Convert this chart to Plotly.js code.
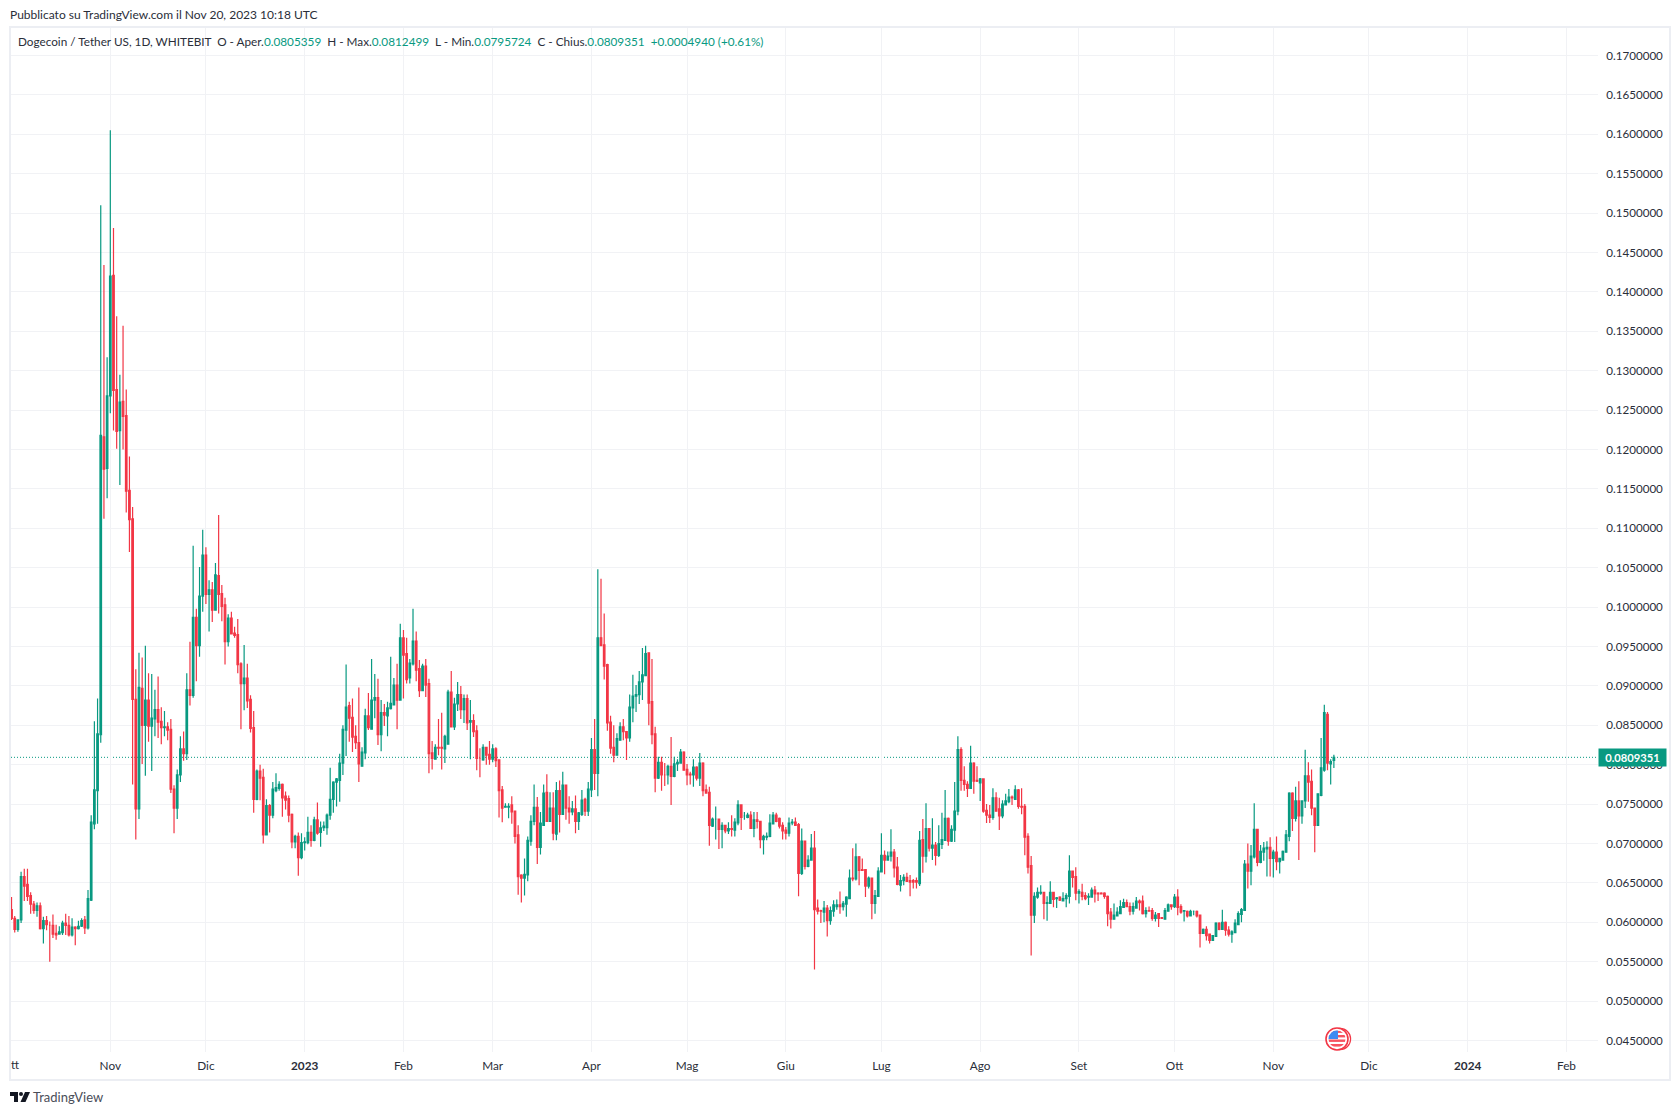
<!DOCTYPE html>
<html>
<head>
<meta charset="utf-8">
<script src="https://cdn.plot.ly/plotly-3.0.1.min.js"></script>
<style>html,body{margin:0;padding:0;background:#fff}#chart{width:1680px;height:1115px}</style>
</head>
<body>
<div id="chart"></div>
<script>
const firstDate = '2022-10-01';
const openPrices = [
.0616,.0605,.0591,.0603,.0658,.0648,.0634,.0623,.0615,.0621,
.0592,.0602,.0596,.0596,.0586,.0585,.0587,.0599,.0596,.0584,
.0594,.0592,.0595,.0603,.0593,.0628,.0725,.0767,.0838,.1216,
.1176,.1268,.1421,.1276,.1224,.1261,.1243,.1148,.1112,.0883,
.0744,.0897,.0850,.0882,.0849,.0858,.0870,.0855,.0847,.0848,
.0845,.0769,.0745,.0787,.0820,.0814,.0895,.0888,.0987,.0951,
.1014,.1066,.1016,.1022,.0996,.1040,.1017,.1003,.0956,.0986,
.0967,.0965,.0928,.0903,.0910,.0883,.0847,.0756,.0792,.0784,
.0711,.0748,.0736,.0767,.0770,.0775,.0760,.0757,.0737,.0702,
.0709,.0682,.0701,.0701,.0714,.0704,.0730,.0714,.0720,.0720,
.0736,.0756,.0778,.0780,.0802,.0844,.0875,.0860,.0836,.0828,
.0798,.0815,.0862,.0845,.0882,.0885,.0838,.0866,.0862,.0871,
.0876,.0901,.0882,.0961,.0941,.0910,.0928,.0957,.0922,.0894,
.0925,.0903,.0815,.0807,.0822,.0822,.0820,.0826,.0892,.0848,
.0877,.0889,.0870,.0884,.0854,.0856,.0843,.0808,.0806,.0822,
.0813,.0807,.0820,.0806,.0768,.0746,.0746,.0749,.0741,.0711,
.0660,.0656,.0660,.0703,.0728,.0746,.0695,.0723,.0765,.0728,
.0745,.0712,.0767,.0737,.0774,.0745,.0740,.0744,.0728,.0737,
.0756,.0741,.0768,.0819,.0789,.0961,.0952,.0927,.0854,.0822,
.0812,.0831,.0848,.0842,.0834,.0872,.0887,.0889,.0905,.0913,
.0942,.0880,.0839,.0783,.0803,.0787,.0787,.0798,.0785,.0801,
.0802,.0816,.0794,.0788,.0787,.0797,.0783,.0802,.0768,.0765,
.0722,.0731,.0731,.0718,.0723,.0716,.0719,.0717,.0726,.0749,
.0735,.0733,.0736,.0719,.0730,.0728,.0705,.0708,.0709,.0725,
.0736,.0732,.0723,.0717,.0713,.0726,.0727,.0724,.0662,.0703,
.0671,.0679,.0694,.0618,.0615,.0613,.0618,.0602,.0614,.0620,
.0622,.0620,.0623,.0630,.0656,.0655,.0683,.0667,.0667,.0646,
.0656,.0624,.0633,.0664,.0685,.0679,.0684,.0689,.0670,.0647,
.0653,.0657,.0653,.0653,.0653,.0649,.0705,.0684,.0719,.0694,
.0698,.0685,.0699,.0704,.0732,.0703,.0717,.0741,.0819,.0780,
.0775,.0770,.0802,.0780,.0777,.0782,.0742,.0736,.0733,.0758,
.0744,.0735,.0749,.0753,.0759,.0756,.0768,.0747,.0747,.0709,
.0672,.0609,.0632,.0637,.0638,.0624,.0624,.0638,.0630,.0632,
.0627,.0630,.0633,.0665,.0658,.0637,.0638,.0634,.0632,.0632,
.0641,.0637,.0637,.0637,.0633,.0613,.0604,.0608,.0611,.0619,
.0625,.0620,.0614,.0618,.0627,.0627,.0611,.0615,.0615,.0605,
.0611,.0606,.0604,.0614,.0622,.0620,.0632,.0620,.0614,.0614,
.0608,.0614,.0614,.0609,.0586,.0591,.0585,.0577,.0582,.0599,
.0591,.0600,.0590,.0585,.0587,.0597,.0610,.0615,.0674,.0665,
.0683,.0718,.0676,.0689,.0693,.0695,.0681,.0689,.0677,.0679,
.0689,.0709,.0764,.0732,.0754,.0735,.0754,.0786,.0779,.0745,
.0723,.0761,.0793,.0864,.0801,.0805359];
const highPrices = [
.0632,.0608,.0604,.0664,.0668,.0668,.0638,.0627,.0625,.0625,
.0607,.0608,.0601,.0610,.0597,.0595,.0602,.0611,.0608,.0605,
.0595,.0602,.0605,.0608,.0641,.0736,.0855,.0884,.1510,.1434,
.1317,.1605,.1481,.1369,.1295,.1357,.1276,.1191,.1127,.0921,
.0942,.0936,.0951,.0916,.0915,.0895,.0912,.0873,.0868,.0854,
.0858,.0774,.0794,.0836,.0842,.0916,.0956,.1078,.0998,.1051,
.1098,.1076,.1034,.1032,.1056,.1117,.1028,.1012,.0991,.0994,
.0975,.0985,.0930,.0952,.0928,.0888,.0868,.0794,.0800,.0795,
.0756,.0750,.0778,.0789,.0779,.0776,.0766,.0761,.0738,.0711,
.0714,.0713,.0708,.0734,.0723,.0734,.0752,.0728,.0728,.0738,
.0796,.0779,.0783,.0814,.0850,.0927,.0880,.0884,.0850,.0898,
.0822,.0871,.0891,.0934,.0915,.0909,.0882,.0877,.0880,.0937,
.0910,.0928,.0979,.0971,.0961,.0934,.0998,.0969,.0933,.0928,
.0934,.0909,.0830,.0826,.0858,.0866,.0838,.0895,.0919,.0885,
.0905,.0900,.0889,.0889,.0882,.0864,.0850,.0821,.0826,.0822,
.0830,.0826,.0822,.0807,.0773,.0751,.0751,.0760,.0742,.0723,
.0661,.0681,.0709,.0736,.0775,.0759,.0740,.0775,.0788,.0765,
.0765,.0778,.0780,.0791,.0775,.0760,.0754,.0761,.0740,.0768,
.0758,.0778,.0834,.0858,.1048,.1036,.0992,.0928,.0862,.0850,
.0840,.0854,.0858,.0842,.0889,.0914,.0901,.0919,.0948,.0951,
.0942,.0934,.0848,.0810,.0810,.0802,.0800,.0835,.0810,.0807,
.0820,.0817,.0801,.0791,.0807,.0798,.0815,.0803,.0775,.0772,
.0733,.0747,.0731,.0727,.0723,.0727,.0736,.0732,.0755,.0749,
.0740,.0739,.0741,.0740,.0740,.0728,.0711,.0714,.0737,.0740,
.0739,.0733,.0727,.0721,.0733,.0731,.0733,.0726,.0719,.0703,
.0685,.0712,.0716,.0629,.0616,.0627,.0622,.0620,.0628,.0629,
.0639,.0627,.0633,.0667,.0694,.0700,.0684,.0681,.0667,.0658,
.0657,.0641,.0670,.0713,.0691,.0690,.0718,.0693,.0683,.0660,
.0661,.0663,.0660,.0655,.0657,.0716,.0731,.0751,.0719,.0732,
.0702,.0723,.0739,.0768,.0733,.0723,.0778,.0836,.0822,.0798,
.0779,.0824,.0803,.0798,.0783,.0782,.0750,.0749,.0770,.0765,
.0758,.0755,.0763,.0769,.0761,.0774,.0769,.0770,.0750,.0713,
.0684,.0638,.0644,.0647,.0638,.0633,.0652,.0638,.0632,.0633,
.0638,.0637,.0685,.0665,.0670,.0642,.0649,.0638,.0637,.0644,
.0646,.0638,.0638,.0638,.0634,.0618,.0624,.0619,.0628,.0630,
.0629,.0625,.0625,.0632,.0629,.0634,.0619,.0620,.0618,.0613,
.0611,.0606,.0618,.0624,.0623,.0636,.0642,.0623,.0615,.0615,
.0616,.0615,.0615,.0610,.0592,.0595,.0585,.0583,.0600,.0600,
.0616,.0601,.0595,.0590,.0604,.0614,.0618,.0679,.0700,.0698,
.0751,.0718,.0698,.0702,.0703,.0708,.0692,.0709,.0681,.0691,
.0717,.0765,.0765,.0772,.0779,.0755,.0819,.0803,.0794,.0745,
.0763,.0834,.0876,.0867,.0807,.0812499];
const lowPrices = [
.0603,.0587,.0588,.0599,.0627,.0627,.0611,.0611,.0607,.0591,
.0573,.0590,.0550,.0580,.0578,.0585,.0584,.0584,.0582,.0582,
.0571,.0591,.0594,.0585,.0591,.0627,.0718,.0725,.0828,.1112,
.1138,.1246,.1224,.1201,.1155,.1200,.1120,.1070,.0775,.0705,
.0731,.0801,.0786,.0829,.0792,.0836,.0834,.0826,.0836,.0831,
.0764,.0713,.0731,.0778,.0805,.0806,.0875,.0885,.0906,.0937,
.0994,.1004,.0969,.0981,.0996,.0992,.0982,.0927,.0950,.0966,
.0961,.0916,.0845,.0869,.0872,.0841,.0739,.0755,.0755,.0700,
.0710,.0714,.0732,.0765,.0767,.0734,.0743,.0727,.0694,.0694,
.0659,.0680,.0691,.0699,.0696,.0703,.0711,.0696,.0716,.0711,
.0730,.0739,.0747,.0753,.0787,.0811,.0829,.0816,.0820,.0778,
.0798,.0807,.0844,.0845,.0859,.0825,.0817,.0849,.0836,.0870,
.0876,.0845,.0882,.0884,.0903,.0903,.0926,.0906,.0886,.0894,
.0886,.0789,.0794,.0807,.0812,.0794,.0802,.0826,.0848,.0844,
.0868,.0858,.0853,.0844,.0807,.0835,.0793,.0784,.0805,.0800,
.0800,.0803,.0797,.0733,.0727,.0746,.0732,.0725,.0700,.0635,
.0625,.0634,.0652,.0697,.0723,.0674,.0686,.0723,.0728,.0728,
.0704,.0704,.0714,.0737,.0730,.0725,.0736,.0713,.0717,.0735,
.0735,.0735,.0759,.0768,.0760,.0951,.0908,.0843,.0814,.0803,
.0812,.0831,.0831,.0806,.0829,.0854,.0867,.0877,.0882,.0913,
.0850,.0826,.0765,.0782,.0767,.0773,.0775,.0749,.0784,.0792,
.0802,.0793,.0774,.0775,.0772,.0780,.0773,.0760,.0763,.0697,
.0721,.0705,.0693,.0694,.0713,.0712,.0709,.0709,.0723,.0717,
.0730,.0732,.0719,.0708,.0719,.0694,.0686,.0704,.0708,.0725,
.0727,.0719,.0705,.0705,.0709,.0723,.0723,.0633,.0660,.0667,
.0670,.0679,.0540,.0610,.0599,.0600,.0582,.0597,.0607,.0616,
.0611,.0615,.0607,.0630,.0652,.0653,.0647,.0665,.0632,.0643,
.0604,.0611,.0633,.0664,.0661,.0679,.0677,.0657,.0647,.0639,
.0647,.0651,.0633,.0643,.0643,.0646,.0663,.0676,.0690,.0679,
.0672,.0683,.0693,.0704,.0697,.0702,.0702,.0736,.0767,.0767,
.0759,.0769,.0763,.0778,.0754,.0739,.0726,.0726,.0730,.0741,
.0717,.0732,.0749,.0751,.0749,.0756,.0744,.0737,.0685,.0662,
.0558,.0599,.0630,.0635,.0604,.0602,.0624,.0619,.0618,.0627,
.0627,.0619,.0624,.0644,.0628,.0624,.0628,.0628,.0622,.0632,
.0625,.0627,.0636,.0630,.0595,.0592,.0604,.0608,.0611,.0619,
.0619,.0609,.0610,.0618,.0615,.0610,.0606,.0614,.0602,.0601,
.0594,.0605,.0604,.0614,.0616,.0618,.0609,.0611,.0601,.0606,
.0608,.0609,.0606,.0568,.0585,.0577,.0573,.0577,.0582,.0590,
.0591,.0583,.0582,.0574,.0587,.0597,.0600,.0615,.0643,.0647,
.0681,.0671,.0675,.0678,.0658,.0658,.0657,.0666,.0662,.0679,
.0689,.0703,.0716,.0728,.0679,.0725,.0745,.0753,.0736,.0689,
.0723,.0760,.0791,.0793,.0775,.0795724];
const closePrices = [
.0605,.0591,.0603,.0658,.0646,.0633,.0623,.0615,.0621,.0592,
.0602,.0597,.0596,.0585,.0584,.0588,.0599,.0596,.0584,.0594,
.0592,.0595,.0602,.0593,.0630,.0727,.0768,.0839,.1218,.1175,
.1268,.1420,.1275,.1223,.1260,.1242,.1147,.1111,.0883,.0744,
.0898,.0850,.0882,.0849,.0859,.0870,.0854,.0847,.0848,.0844,
.0769,.0745,.0787,.0820,.0814,.0895,.0888,.0987,.0951,.1014,
.1066,.1016,.1022,.0996,.1041,.1016,.1001,.0956,.0986,.0966,
.0964,.0927,.0903,.0910,.0881,.0846,.0756,.0792,.0783,.0711,
.0748,.0736,.0769,.0771,.0775,.0758,.0755,.0736,.0702,.0709,
.0682,.0701,.0702,.0714,.0704,.0730,.0713,.0720,.0722,.0736,
.0756,.0778,.0782,.0802,.0845,.0873,.0859,.0835,.0828,.0801,
.0816,.0862,.0847,.0882,.0885,.0838,.0866,.0863,.0872,.0878,
.0901,.0882,.0961,.0939,.0908,.0929,.0957,.0920,.0894,.0925,
.0901,.0814,.0808,.0822,.0821,.0821,.0836,.0892,.0848,.0877,
.0889,.0870,.0884,.0853,.0856,.0842,.0808,.0808,.0822,.0812,
.0807,.0820,.0805,.0767,.0745,.0747,.0747,.0740,.0709,.0658,
.0656,.0661,.0704,.0728,.0746,.0695,.0726,.0764,.0728,.0745,
.0713,.0767,.0737,.0774,.0745,.0740,.0744,.0728,.0739,.0755,
.0741,.0769,.0819,.0789,.0961,.0951,.0925,.0853,.0821,.0812,
.0833,.0848,.0842,.0834,.0873,.0887,.0889,.0905,.0914,.0941,
.0878,.0838,.0783,.0803,.0787,.0787,.0798,.0785,.0801,.0803,
.0816,.0793,.0787,.0787,.0797,.0783,.0802,.0767,.0764,.0723,
.0731,.0731,.0718,.0723,.0716,.0719,.0718,.0727,.0749,.0733,
.0735,.0736,.0719,.0730,.0728,.0705,.0709,.0709,.0726,.0736,
.0728,.0722,.0716,.0713,.0726,.0727,.0723,.0662,.0703,.0671,
.0679,.0694,.0616,.0614,.0614,.0618,.0602,.0615,.0622,.0622,
.0620,.0624,.0632,.0656,.0655,.0683,.0666,.0666,.0646,.0656,
.0624,.0634,.0665,.0685,.0679,.0684,.0689,.0669,.0648,.0653,
.0657,.0652,.0651,.0651,.0651,.0704,.0684,.0719,.0694,.0698,
.0685,.0700,.0705,.0732,.0703,.0718,.0741,.0819,.0780,.0775,
.0770,.0802,.0779,.0779,.0782,.0741,.0736,.0733,.0758,.0741,
.0735,.0750,.0754,.0759,.0758,.0768,.0747,.0746,.0708,.0670,
.0609,.0633,.0638,.0638,.0624,.0625,.0638,.0629,.0631,.0628,
.0630,.0634,.0665,.0657,.0637,.0639,.0633,.0630,.0633,.0641,
.0636,.0636,.0636,.0633,.0611,.0604,.0609,.0613,.0620,.0625,
.0620,.0614,.0620,.0627,.0625,.0611,.0615,.0614,.0605,.0609,
.0605,.0605,.0615,.0622,.0620,.0632,.0619,.0613,.0615,.0608,
.0614,.0614,.0608,.0586,.0591,.0583,.0577,.0583,.0599,.0591,
.0600,.0590,.0585,.0588,.0599,.0611,.0616,.0674,.0665,.0684,
.0718,.0676,.0690,.0694,.0695,.0681,.0689,.0677,.0681,.0690,
.0711,.0764,.0732,.0754,.0735,.0754,.0786,.0778,.0745,.0723,
.0763,.0796,.0866,.0802,.0804,.0809351];
const monthTicks = ['2022-11-01','2022-12-01','2023-01-01','2023-02-01','2023-03-01','2023-04-01','2023-05-01','2023-06-01','2023-07-01','2023-08-01','2023-09-01','2023-10-01','2023-11-01','2023-12-01','2024-01-01','2024-02-01'];
const monthLabels = ['Nov','Dic','2023','Feb','Mar','Apr','Mag','Giu','Lug','Ago','Set','Ott','Nov','Dic','2024','Feb'];
const priceTicks = [.045,.05,.055,.06,.065,.07,.075,.08,.085,.09,.095,.1,.105,.11,.115,.12,.125,.13,.135,.14,.145,.15,.155,.16,.165,.17];
const changeAbs = '+0.0004940';
const changePct = '(+0.61%)';

const UP = '#089981', DOWN = '#F23645', GRID = '#F1F2F5', FRAME = '#ECEEF3', TEXT = '#2A2E39';
const FONT = 'Lato, "Noto Sans", sans-serif';
const L = 11, R = 1598, T = 28, B = 1052;
const px = x => (x - L) / (R - L);
const py = y => (B - y) / (B - T);

const dayMs = 86400000;
const start = Date.parse(firstDate + 'T00:00:00Z');
const dates = closePrices.map((_, i) => new Date(start + i * dayMs).toISOString().slice(0, 10));
const n = closePrices.length;
const last = closePrices[n - 1];
const fmt = v => v.toFixed(7);
const val = v => `<span style="color:${UP}">${v}</span>`;
const sp = '\u00A0\u00A0';
const legendText = `Dogecoin / Tether US, 1D, WHITEBIT${sp}O - Aper.${val(fmt(openPrices[n-1]))}${sp}H - Max.${val(fmt(highPrices[n-1]))}${sp}L - Min.${val(fmt(lowPrices[n-1]))}${sp}C - Chius.${val(fmt(last))}${sp}${val(changeAbs + ' ' + changePct)}`;

const logo = 'data:image/svg+xml;utf8,' + encodeURIComponent(
 '<svg xmlns="http://www.w3.org/2000/svg" width="20" height="11" viewBox="0 0 20 11"><path d="M0 0h8v10H4V4H0z" fill="#131722"/><circle cx="11" cy="2" r="2" fill="#131722"/><path d="M15 0h5l-4.5 10H10.5z" fill="#131722"/></svg>');
const flag = 'data:image/svg+xml;utf8,' + encodeURIComponent(
 '<svg xmlns="http://www.w3.org/2000/svg" width="28" height="24" viewBox="0 0 28 24"><defs><clipPath id="c"><circle cx="12" cy="12" r="8.5"/></clipPath></defs>' +
 '<circle cx="15" cy="12" r="10.6" fill="#fff" stroke="#F23645" stroke-width="1.2"/><circle cx="12" cy="12" r="11" fill="#fff" stroke="#F23645" stroke-width="1.6"/>' +
 '<g clip-path="url(#c)"><rect x="3" y="3" width="18" height="18" fill="#fff"/><rect x="3" y="3.5" width="18" height="2.4" fill="#F7525F"/><rect x="3" y="8" width="18" height="2.4" fill="#F7525F"/><rect x="3" y="12.5" width="18" height="2.4" fill="#F7525F"/><rect x="3" y="17" width="18" height="2.6" fill="#F7525F"/><rect x="3" y="3" width="10" height="9" fill="#3D8BF2"/></g></svg>');

const note = (text, x, y, size, color, extra) => Object.assign({
  text, xref: 'paper', yref: 'paper', x: px(x), y: py(y), xanchor: 'left', yanchor: 'middle',
  showarrow: false, font: {family: FONT, size, color}
}, extra || {});

const trace = {
  type: 'candlestick', x: dates, open: openPrices, high: highPrices, low: lowPrices, close: closePrices,
  increasing: {line: {color: UP, width: 1.2}, fillcolor: UP},
  decreasing: {line: {color: DOWN, width: 1.2}, fillcolor: DOWN},
  width: 0.7 * dayMs, whiskerwidth: 0, hoverinfo: 'skip', showlegend: false
};

const layout = {
  width: 1680, height: 1115, paper_bgcolor: '#fff', plot_bgcolor: '#fff',
  margin: {l: L, r: 1680 - R, t: T, b: 1115 - B, pad: 0},
  showlegend: false, hovermode: false, dragmode: false,
  xaxis: {
    type: 'date', range: ['2022-09-30 20:00', '2024-02-10 21:30'], rangeslider: {visible: false},
    tickmode: 'array', tickvals: monthTicks,
    ticktext: monthLabels.map(t => /^\d{4}$/.test(t) ? `<b>${t}</b>` : t),
    ticks: 'outside', ticklen: 3, tickcolor: 'rgba(0,0,0,0)', tickangle: 0,
    showgrid: true, gridcolor: GRID, gridwidth: 1, zeroline: false, showline: false,
    tickfont: {family: FONT, size: 11.8, color: TEXT}
  },
  yaxis: {
    side: 'right', type: 'linear', range: [.04354, .17349], tickmode: 'array', tickvals: priceTicks,
    tickformat: '.7f', ticks: 'outside', ticklen: 5, tickcolor: 'rgba(0,0,0,0)',
    showgrid: true, gridcolor: GRID, gridwidth: 1, zeroline: false, showline: false,
    tickfont: {family: FONT, size: 11.6, color: TEXT}
  },
  shapes: [
    {type: 'line', layer: 'below', xref: 'paper', yref: 'y', x0: 0, x1: 1, y0: last, y1: last,
     line: {color: UP, width: 1, dash: '1px,2px'}},
    {type: 'rect', layer: 'above', xref: 'paper', yref: 'paper', x0: px(10), x1: px(1670), y0: py(27), y1: py(1080),
     line: {color: FRAME, width: 2}, fillcolor: 'rgba(0,0,0,0)'}
  ],
  annotations: [
    note('Pubblicato su TradingView.com il Nov 20, 2023 10:18 UTC', 8, 14, 12, TEXT),
    note(legendText, 15.5, 41, 11.76, TEXT),
    note('tt', 9, 1064, 11.8, TEXT),
    note('TradingView', 31, 1097, 13, '#4A4E59'),
    Object.assign(note(fmt(last), 1598, 0, 11.2, '#FFFFFF'), {
      yref: 'y', y: last, bgcolor: UP, borderpad: 0, width: 67, height: 17, align: 'center', font: {family: FONT, size: 11.2, color: '#fff', weight: 700}
    })
  ],
  images: [
    {source: logo, xref: 'paper', yref: 'paper', x: px(10), y: py(1092), sizex: 20/(R-L), sizey: 11/(B-T), xanchor: 'left', yanchor: 'top', layer: 'above'},
    {source: flag, xref: 'paper', yref: 'paper', x: px(1325), y: py(1027), sizex: 28/(R-L), sizey: 24/(B-T), xanchor: 'left', yanchor: 'top', layer: 'above', sizing: 'contain'}
  ]
};
Plotly.newPlot('chart', [trace], layout, {staticPlot: true, displayModeBar: false});
</script>
</body>
</html>
